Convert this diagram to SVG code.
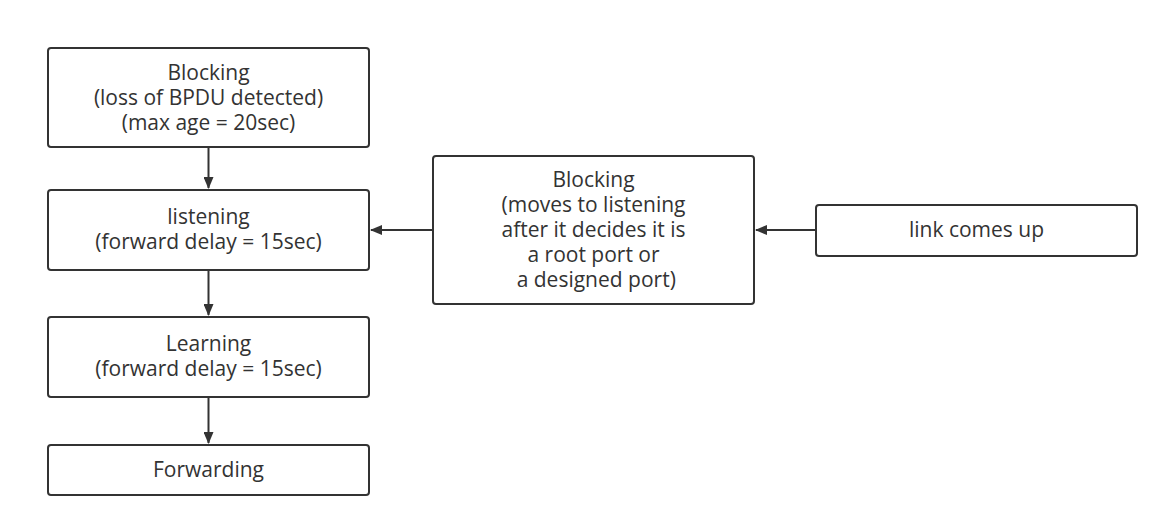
<svg xmlns="http://www.w3.org/2000/svg" width="1169" height="528" viewBox="0 0 1169 528">
<style>
.box{fill:#fff;stroke:#333;stroke-width:2}
.t{font-family:"Open Sans","Liberation Sans",sans-serif;font-size:21px;fill:#333;text-anchor:middle}
.c{stroke:#333;stroke-width:2;fill:none}
</style>
<defs>
<marker id="ah" markerWidth="12" markerHeight="10" refX="11" refY="5" orient="auto" markerUnits="userSpaceOnUse">
<path d="M0,0 L12,5 L0,10 Z" fill="#333"/>
</marker>
</defs>
<rect width="1169" height="528" fill="#fff"/>
<g id="connectors">
<path class="c" d="M208.5,147 V188" marker-end="url(#ah)"/>
<path class="c" d="M208.5,270 V315" marker-end="url(#ah)"/>
<path class="c" d="M208.5,397 V443" marker-end="url(#ah)"/>
<path class="c" d="M433,230 H371" marker-end="url(#ah)"/>
<path class="c" d="M816,230 H756" marker-end="url(#ah)"/>
</g>
<g id="blocking1">
<rect class="box" x="48" y="48" width="321" height="99" rx="3"/>
<text class="t" x="208.5" y="80">Blocking</text>
<text class="t" x="208.5" y="105">(loss of BPDU detected)</text>
<text class="t" x="208.5" y="130">(max age = 20sec)</text>
</g>
<g id="listening">
<rect class="box" x="48" y="190" width="321" height="80" rx="3"/>
<text class="t" x="208.5" y="224">listening</text>
<text class="t" x="208.5" y="249">(forward delay = 15sec)</text>
</g>
<g id="learning">
<rect class="box" x="48" y="317" width="321" height="80" rx="3"/>
<text class="t" x="208.5" y="351">Learning</text>
<text class="t" x="208.5" y="376">(forward delay = 15sec)</text>
</g>
<g id="forwarding">
<rect class="box" x="48" y="445" width="321" height="50" rx="3"/>
<text class="t" x="208.5" y="477">Forwarding</text>
</g>
<g id="blocking2">
<rect class="box" x="433" y="156" width="321" height="148" rx="3"/>
<text class="t" x="593.5" y="187">Blocking</text>
<text class="t" x="593.5" y="212">(moves to listening</text>
<text class="t" x="593.5" y="236.5">after it decides it is</text>
<text class="t" x="593.5" y="261.5">a root port or</text>
<text class="t" x="593.5" y="286.5" xml:space="preserve"> a designed port)</text>
</g>
<g id="link">
<rect class="box" x="816" y="205" width="321" height="51" rx="3"/>
<text class="t" x="976.5" y="237">link comes up</text>
</g>
</svg>
